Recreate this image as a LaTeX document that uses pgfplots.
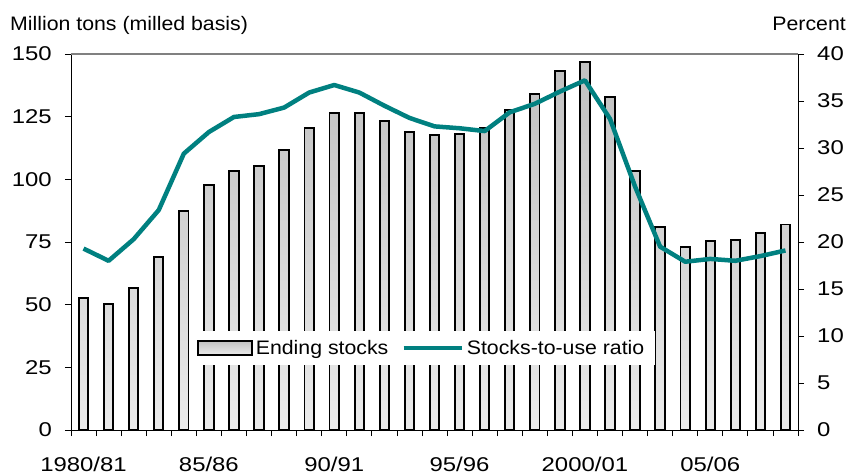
\documentclass[border=0pt]{standalone}
\usepackage{fontspec}
\setmainfont{Liberation Sans}[FakeStretch=1.09]
\newfontfamily\tickfont{Liberation Sans}[FakeStretch=1.2]
\usepackage{pgfplots}
\pgfplotsset{compat=1.18}
\definecolor{stuline}{HTML}{008080}
\definecolor{bartop}{HTML}{C0C0C0}
\definecolor{barbot}{HTML}{EBEBEB}
\definecolor{topborder}{HTML}{808080}
\pgfplotsset{
  mybarlegend/.style={legend image code/.code={\draw[##1] (0bp,-7bp) rectangle (54bp,7bp);}},
  mylinelegend/.style={legend image code/.code={\draw[##1] (0bp,0bp) -- (58bp,0bp);}},
}
\begin{document}
\begin{tikzpicture}
\path[use as bounding box] (0,0) rectangle (848bp,475bp);
\begin{axis}[
  at={(71bp,45bp)}, anchor=south west,
  scale only axis, width=727bp, height=376bp,
  xmin=-0.5, xmax=28.5, ymin=0, ymax=150,
  axis x line*=bottom, axis y line*=left,
  xtick={-0.5,0.5,...,28.5}, xticklabels={},
  extra x ticks={0,5,10,15,20,25},
  extra x tick labels={1980/81,85/86,90/91,95/96,2000/01,05/06},
  extra x tick style={major tick length=0pt},
  ytick={0,25,...,150},
  tick align=outside, major tick length=6bp,
  tick style={black, line width=0.8bp},
  axis line style={black, line width=1bp},
  /pgf/number format/assume math mode=true,
  tick label style={font=\tickfont\fontsize{20}{24}\selectfont},
  yticklabel style={anchor=east, inner sep=0pt, xshift=-13bp},
  xticklabel style={anchor=north, inner sep=0pt, yshift=-27bp},
  clip=false,
]
\addplot[ybar, bar width=9.4bp, draw=black, line width=1.9bp, top color=bartop, bottom color=barbot]
  coordinates {
  (0,52.5) (1,50.3) (2,56.5) (3,69.1) (4,87.5) (5,97.6) (6,103.2) (7,105.2)
  (8,111.7) (9,120.6) (10,126.6) (11,126.6) (12,123.3) (13,119.0) (14,117.8)
  (15,118.2) (16,120.6) (17,127.5) (18,134.0) (19,143.1) (20,146.7) (21,132.8)
  (22,103.2) (23,80.9) (24,73.0) (25,75.5) (26,75.7) (27,78.6) (28,82.0)
  };
\draw[topborder, line width=1.5bp] (rel axis cs:0,1) -- (rel axis cs:1,1);
\end{axis}
\begin{axis}[
  at={(71bp,45bp)}, anchor=south west,
  scale only axis, width=727bp, height=376bp,
  xmin=-0.5, xmax=28.5, ymin=0, ymax=40,
  axis x line=none, axis y line*=right,
  ytick={0,5,...,40},
  tick align=outside, major tick length=6bp,
  tick style={black, line width=0.8bp},
  axis line style={black, line width=1bp},
  /pgf/number format/assume math mode=true,
  tick label style={font=\tickfont\fontsize{20}{24}\selectfont},
  yticklabel style={anchor=west, inner sep=0pt, xshift=13bp},
  legend columns=2,
  legend style={at={(0.483,0.218)}, anchor=center, draw=none, fill=white,
    font=\fontsize{19.6}{23}\selectfont, inner xsep=8bp, inner ysep=6bp,
    nodes={inner sep=3bp, anchor=west},
    /tikz/every even column/.append style={column sep=10bp}},
  clip=false,
]
\addlegendimage{draw=black, line width=1.9bp, top color=bartop, bottom color=barbot, mybarlegend}
\addlegendentry{Ending stocks}
\addplot[stuline, line width=4.5bp, line join=round, mark=none, mylinelegend]
  coordinates {
  (0,19.3) (1,18.0) (2,20.3) (3,23.4) (4,29.4) (5,31.7) (6,33.3) (7,33.6)
  (8,34.3) (9,35.9) (10,36.7) (11,35.9) (12,34.5) (13,33.2) (14,32.3)
  (15,32.1) (16,31.8) (17,33.8) (18,34.7) (19,36.0) (20,37.2) (21,33.1)
  (22,25.9) (23,19.5) (24,17.9) (25,18.2) (26,18.0) (27,18.5) (28,19.1)
  };
\addlegendentry{Stocks-to-use ratio}
\end{axis}
\node[anchor=base west, inner sep=0pt, font=\fontsize{19.6}{23}\selectfont] at (10bp,444bp) {Million tons (milled basis)};
\node[anchor=base east, inner sep=0pt, font=\fontsize{19.6}{23}\selectfont] at (846bp,444bp) {Percent};
\end{tikzpicture}
\end{document}
